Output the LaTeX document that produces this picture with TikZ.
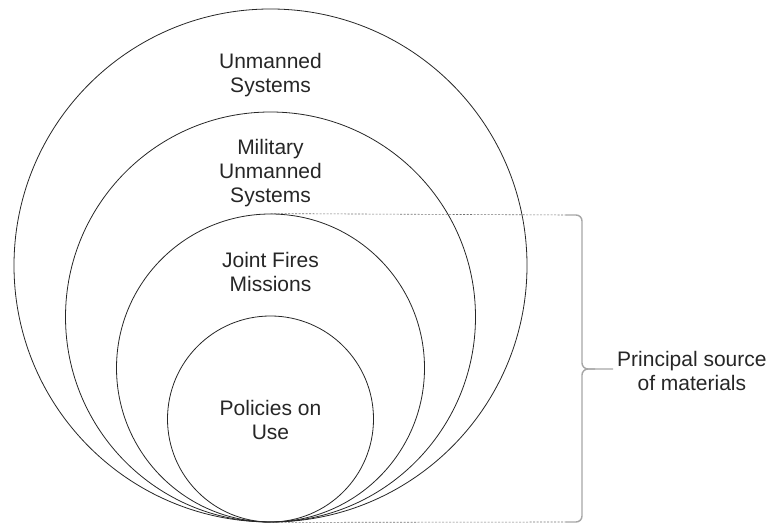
\documentclass[tikz,border=0pt]{standalone}
\usepackage{fontspec}
\setmainfont{Liberation Sans}

\begin{document}
\begin{tikzpicture}[x=1pt,y=1pt,font=\fontsize{21}{24}\selectfont]
  \tikzset{ring/.style={draw=black!85,line width=0.8pt,circle,inner sep=0pt},
           lbl/.style={align=center,inner sep=0pt,text=black!85},
           guide/.style={draw=black!55,dashed,dash pattern=on 2pt off 1.5pt,line width=0.6pt},
           bracket/.style={draw=black!35,line width=1.4pt,rounded corners=6pt}}
  \useasboundingbox (0,0) rectangle (770,524);
  % nested circles, all touching at the bottom
  \node[ring,minimum size=513pt] (us) at (270.5,258.5) {};
  \node[ring,minimum size=410pt] (mus) at (270.5,207) {};
  \node[ring,minimum size=308pt] (jf) at (270.5,156) {};
  \node[ring,minimum size=206pt] (pu) at (270.5,105) {};
  \node[lbl] (us text)  at (270.5,449) {Unmanned\\Systems};
  \node[lbl] (mus text) at (270.5,351) {Military\\Unmanned\\Systems};
  \node[lbl] (jf text)  at (270.5,252) {Joint Fires\\Missions};
  \node[lbl] (pu text)  at (270.5,104) {Policies on\\Use};
  % bracket on the right
  \coordinate (top)  at (566,309);
  \coordinate (bot)  at (566,2);
  \coordinate (tip)  at (613,155);
  \node[lbl,anchor=west] (src) at (617,153) {Principal source\\of materials};
  \draw[guide] (jf.north) -- (top);
  \draw[guide] (us.south) -- (bot);
  \draw[bracket] (top) -- (582,309) -- (582,155) -- (tip);
  \draw[bracket] (bot) -- (582,2) -- (582,155) -- (595,155);
\end{tikzpicture}
\end{document}
